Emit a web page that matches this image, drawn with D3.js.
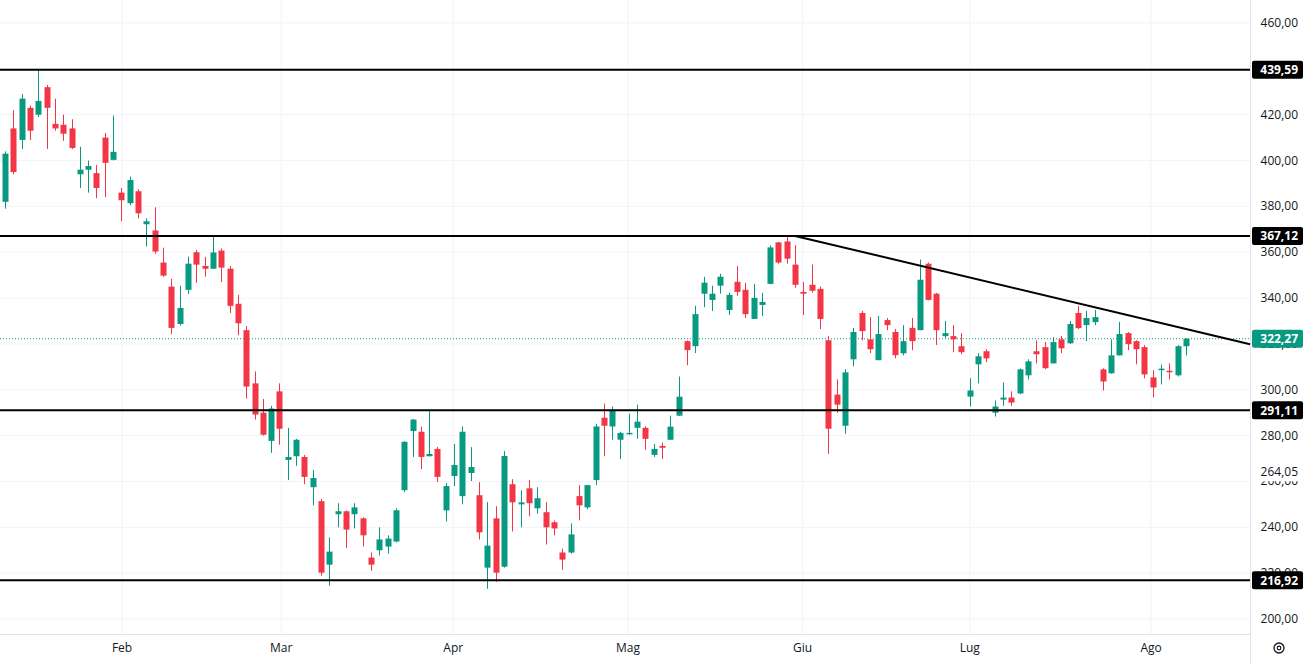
<!DOCTYPE html>
<html><head><meta charset="utf-8">
<script src="https://cdn.jsdelivr.net/npm/d3@7/dist/d3.min.js"></script>
<style>body{margin:0;background:#fff;}svg{display:block;font-family:"Open Sans",Roboto,sans-serif;}</style>
</head><body><svg id="c" width="1309" height="664"></svg>
<script>
const opens  = [382,414,409,423,420,432,416,415.6,414,394,396,394.5,410,400.3,386,381.4,386.6,372.2,369.5,355.5,345,328.7,343.6,360,354,352.8,360.7,352.8,337.5,326,302.8,290,277.7,299.3,269.4,271,270.7,257.5,251.4,223.7,245.7,247,245.7,243.9,226.8,230,231.6,233.8,256.2,282,281.7,271,274.2,247.4,262.4,253.6,263.7,254,222.4,243.9,222.8,258.8,250,257,248.3,246.6,242.2,229,229,253.6,248.7,260.6,287.8,284,278.2,280.8,283.4,283.4,271.6,275.5,278.2,288.7,321.2,319,341.9,339.2,345.4,334.8,347.1,343.6,330.9,337,346.2,364.3,364.7,354.6,342.7,345.8,344,321.6,297.9,284.3,313.3,333.5,322,312.9,330.4,325.2,315.9,327,326,355,341.9,323.4,323.4,319,297,311.1,316.8,290,295.7,296.6,298.4,306.3,316.8,318.6,311.5,322,320.3,333.5,328.2,329.5,308.9,307.2,315,324.7,321.2,318.6,305.4,308.8,308.3,306.3,319];
const highs  = [404,422,429,424,440,433,427,420,418,406,400,398,412,419.6,388,393,387.5,374.8,379.6,362,348.4,345.4,358,361,358,367,361.6,354,341.4,327.8,308,296,293,302.8,283.4,278.6,271.6,265,252.3,235.6,250.5,247.4,250.5,244.4,229,240,236.5,248.3,277.5,287.2,283.9,291,275,259.3,276.4,284,275,259.7,251,249.2,273.3,261,256.2,260.6,257.5,251,243,230.7,241.7,258.4,258.5,285.2,294,292.7,281.7,289.6,293.5,284,276.4,277,288.7,305.8,321.5,336.6,349.3,345.4,350.6,342.3,354,346.7,346.2,342.3,363,364.5,367.12,363,347,354.6,345,323.4,304.5,309,327,334.4,331.7,332.2,331.3,326.5,328.2,331.3,356.8,355.5,342.3,330,328.2,324.7,305,316,317.7,295.3,303.2,299.3,309.3,313.3,321.6,320.8,323,323.4,330,336.6,334.4,334.8,309.4,322,329.6,325.2,321.6,319.5,308.5,311,311.5,319.5,322.5];
const lows   = [379,394,405,409,419,405,413,408.6,405,388,386,383.6,384,400,373.5,380.5,374.8,362.5,359.4,349.3,324.3,328,341.8,346.7,349.3,352.8,347,333.5,323.8,296.2,287,280,272.5,276,260.6,266.8,258.8,249.6,218.9,214.5,240,231,239.5,231.6,221,227.7,228.5,233.4,255.3,270.7,265.4,271,259.7,242.6,258,250,260.2,234.7,213.2,216.2,222.4,238.2,240,244.8,246,232.5,236.5,221.5,228.5,243,247.9,258.4,271,278.2,269.8,280.5,278.6,273.8,270.7,269.8,278,288.5,310.7,316,336,334.4,341.9,332.6,341,331.3,330.9,332.2,346,355,355,344.5,332.6,342.3,326.5,272,290,280.8,310.2,321.6,316,312.9,326,313.7,315,317.3,326,339,319.5,322.5,316.4,315.5,292.7,302.8,312,288.3,293,293,298,304.5,311.5,309,311.5,316,320,326.5,321.2,328.2,299.7,307,315,317.3,311.1,305,296.6,302.3,304.5,305.8,315];
const closes = [403,395,427,413,426,423,414,411.7,405.5,396,397.6,388,399,403.8,382.7,391.5,377,373.5,360.3,349.8,327,335.7,355,354.6,352.8,359.9,353.3,336.6,329,301.4,289.2,280.4,291.8,283,270.7,278.2,262,261.5,220.2,229.4,247,239,248.7,236.5,223.7,234.7,235.1,247.4,277.3,287,270.7,272,262,258,267.2,281.7,266.3,237.8,232,220.2,271.1,250.9,250.9,250.5,252.7,240,239.5,225.9,236.9,249.6,258.4,284,284.3,290.9,281.2,281.2,286.1,278.6,274.2,274.7,283.9,297,317.3,333,346.7,341.9,349.3,341.4,342.7,333,340.1,338.3,362.1,355.5,357.2,345.8,341.9,343.2,330.9,283,293.5,307.6,325.2,325.6,317.7,324.3,328.2,315.1,321.2,321.2,348,339.2,326,324.7,322,316.4,299.7,314.6,313.7,292.7,296.6,294.4,308.9,312.4,315.5,309.4,320.8,318.1,328.7,326.9,331.3,331.7,303.6,315,324.3,319.9,317.7,306.7,301,309.2,308,319,322.27];
const yTicks = [200,220,240,260,280,300,320,340,360,380,400,420,440,460];
const levels = [439.59,367.12,291.11,216.92];
const levelLabels = ["439,59","367,12","291,11","216,92"];
const lastPrice = 322.27, lastLabel = "322,27";
const extraLabel = {v:264.05, t:"264,05"};
const monthLabels = ["Feb","Mar","Apr","Mag","Giu","Lug","Ago"];
const monthIdx = [14.07,33.2,53.9,74.9,95.9,116.0,137.8];
const trend = [{i:95,v:367.12},{i:149.7,v:319.9}];

const svg = d3.select("#c");
const W=1250, B=634;
const x = d3.scaleLinear().domain([0,142]).range([5,1186]);
const y = d3.scaleLinear().domain([200,460]).range([619,23]);
const green="#089981", red="#f23645";

svg.append("g").selectAll("line").data(yTicks).join("line")
 .attr("x1",0).attr("x2",W).attr("y1",d=>y(d)).attr("y2",d=>y(d)).attr("stroke","#f0f3fa");
svg.append("g").selectAll("line").data(monthIdx).join("line")
 .attr("x1",d=>x(d)).attr("x2",d=>x(d)).attr("y1",0).attr("y2",B).attr("stroke","#f0f3fa");

svg.append("line").attr("x1",W+0.5).attr("x2",W+0.5).attr("y1",0).attr("y2",664).attr("stroke","#e0e3eb");
svg.append("line").attr("x1",0).attr("x2",W).attr("y1",B+0.5).attr("y2",B+0.5).attr("stroke","#e0e3eb");

svg.append("g").selectAll("text").data(yTicks).join("text")
 .attr("x",1298).attr("y",d=>y(d)+4).attr("text-anchor","end").attr("font-size",12).attr("fill","#131722")
 .text(d=>d.toFixed(2).replace(".",","));
svg.append("g").selectAll("text").data(monthLabels).join("text")
 .attr("x",(d,i)=>x(monthIdx[i])).attr("y",652).attr("text-anchor","middle").attr("font-size",12).attr("fill","#131722").text(d=>d);

svg.append("line").attr("x1",0).attr("x2",W).attr("y1",y(lastPrice)).attr("y2",y(lastPrice))
 .attr("stroke",green).attr("stroke-dasharray","1,2");

const idx = d3.range(opens.length);
const g = svg.append("g");
g.selectAll("line").data(idx).join("line")
 .attr("x1",i=>Math.round(x(i))+0.5).attr("x2",i=>Math.round(x(i))+0.5)
 .attr("y1",i=>y(highs[i])).attr("y2",i=>y(lows[i]))
 .attr("stroke",i=>closes[i]>=opens[i]?green:red);
g.selectAll("rect").data(idx).join("rect")
 .attr("x",i=>Math.round(x(i))-2.5).attr("width",6)
 .attr("y",i=>y(Math.max(opens[i],closes[i])))
 .attr("height",i=>Math.max(1.5,Math.abs(y(opens[i])-y(closes[i]))))
 .attr("fill",i=>closes[i]>=opens[i]?green:red);

svg.append("g").selectAll("line").data(levels).join("line")
 .attr("x1",0).attr("x2",W).attr("y1",d=>y(d)).attr("y2",d=>y(d)).attr("stroke","#000").attr("stroke-width",2);
svg.append("line").attr("x1",x(trend[0].i)).attr("y1",y(trend[0].v)).attr("x2",x(trend[1].i)).attr("y2",y(trend[1].v))
 .attr("stroke","#000").attr("stroke-width",2);

svg.append("rect").attr("x",1253).attr("y",y(extraLabel.v)-9).attr("width",50).attr("height",18).attr("fill","#fff");
svg.append("text").attr("x",1298).attr("y",y(extraLabel.v)+4).attr("text-anchor","end").attr("font-size",12).attr("fill","#131722").text(extraLabel.t);

const tags = levels.map((v,i)=>({v,t:levelLabels[i],c:"#000"})).concat([{v:lastPrice,t:lastLabel,c:green}]);
const tg = svg.append("g").selectAll("g").data(tags).join("g");
tg.append("rect").attr("x",1252).attr("y",d=>y(d.v)-9).attr("width",51).attr("height",18).attr("rx",2).attr("fill",d=>d.c);
tg.append("text").attr("x",1298).attr("y",d=>y(d.v)+4.5).attr("text-anchor","end").attr("font-size",12).attr("font-weight","bold").attr("fill","#fff").text(d=>d.t);

svg.append("circle").attr("cx",1279).attr("cy",648).attr("r",5).attr("fill","none").attr("stroke","#131722").attr("stroke-width",1.3);
svg.append("circle").attr("cx",1279).attr("cy",648).attr("r",1.8).attr("fill","none").attr("stroke","#131722").attr("stroke-width",1.2);
</script></body></html>
